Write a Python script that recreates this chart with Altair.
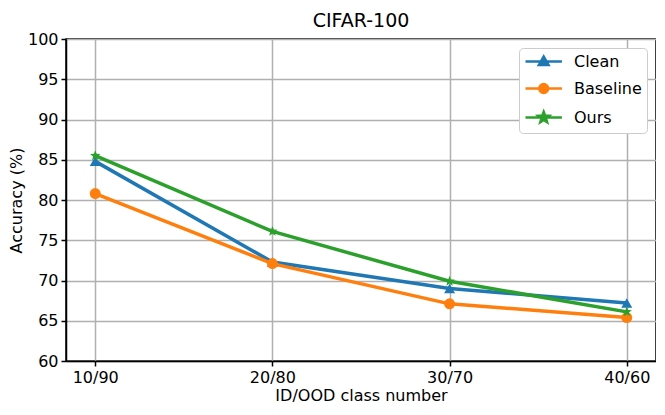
import math
import altair as alt
import pandas as pd

categories = ["10/90", "20/80", "30/70", "40/60"]
series_names = ["Clean", "Baseline", "Ours"]
clean = [84.8, 72.3, 69.0, 67.2]
baseline = [80.8, 72.1, 67.1, 65.4]
ours = [85.5, 76.1, 69.9, 66.1]

rows = []
for name, vals in zip(series_names, [clean, baseline, ours]):
    for c, v in zip(categories, vals):
        rows.append({"cat": c, "series": name, "acc": v})
df = pd.DataFrame(rows)

def star_path(scale=1.0, dx=0.0):
    pts = []
    for k in range(10):
        r = (1.0 if k % 2 == 0 else 0.42) * scale
        a = math.radians(-90 + 36 * k)
        pts.append(f"{dx + r*math.cos(a):.3f},{r*math.sin(a):.3f}")
    return "M" + "L".join(pts) + "Z"

def tri_path(s, dx):
    return f"M{dx:.3f},{-0.8*s:.3f}L{dx+0.8*s:.3f},{0.6*s:.3f}L{dx-0.8*s:.3f},{0.6*s:.3f}Z"

def circ_path(r, dx):
    return (f"M{dx+r:.3f},0A{r:.3f},{r:.3f} 0 1 1 {dx-r:.3f},0"
            f"A{r:.3f},{r:.3f} 0 1 1 {dx+r:.3f},0Z")

star = star_path()
colors = ["#1f77b4", "#ff7f0e", "#2ca02c"]
shapes = ["triangle-up", "circle", star]

# legend glyphs: line segment + marker drawn as nested outlines (so a stroke fills it)
c0 = 1.6
seg = f"M{c0-2.6:.2f},0H{c0+2.6:.2f}"
nest = [1.0, 0.66, 0.33]
leg_tri = seg + "".join(tri_path(0.85 * k, c0) for k in nest)
leg_circ = seg + "".join(circ_path(0.62 * k, c0) for k in nest)
leg_star = seg + "".join(star_path(0.8 * k, c0) for k in nest)
leg_shapes = [leg_tri, leg_circ, leg_star]

x = alt.X("cat:N", sort=categories, title="ID/OOD class number",
          scale=alt.Scale(type="point", padding=0.165),
          axis=alt.Axis(labelAngle=0, grid=True, labelPadding=3, titlePadding=2))
y = alt.Y("acc:Q", title="Accuracy (%)",
          scale=alt.Scale(domain=[60, 100], nice=False, zero=False),
          axis=alt.Axis(values=list(range(60, 101, 5)), grid=True,
                        labelPadding=3, titlePadding=3))
color_scale = alt.Scale(domain=series_names, range=colors)

lines = alt.Chart(df).mark_line(strokeWidth=3.5).encode(
    x=x, y=y,
    color=alt.Color("series:N", sort=series_names, scale=color_scale, legend=None),
    detail="series:N")
points = alt.Chart(df).mark_point(filled=True, size=120, opacity=1).encode(
    x=x, y=y,
    color=alt.Color("series:N", sort=series_names, scale=color_scale, legend=None),
    shape=alt.Shape("series:N", sort=series_names,
                    scale=alt.Scale(domain=series_names, range=shapes), legend=None))

leg = alt.Legend(
    title=None, orient="top-right", offset=9,
    labelFontSize=16, symbolSize=196, symbolStrokeWidth=2.6,
    strokeColor="#cccccc", padding=5, cornerRadius=4,
    fillColor="white", rowPadding=7, labelOffset=33, symbolOpacity=1,
)
legend_layer = alt.Chart(df).transform_filter("false").mark_point(
    filled=False, size=196, opacity=1, strokeWidth=2.6).encode(
    x=x, y=y,
    color=alt.Color("series:N", sort=series_names, scale=color_scale, legend=leg),
    shape=alt.Shape("series:N", sort=series_names,
                    scale=alt.Scale(domain=series_names, range=leg_shapes), legend=leg),
)

chart = alt.layer(lines, points, legend_layer).resolve_scale(
    shape="independent", color="independent"
).properties(
    width=590, height=322,
    title=alt.Title("CIFAR-100", fontSize=19, fontWeight="normal", offset=0),
    padding={"left": 0, "top": 4, "right": 0, "bottom": 0},
).configure(font="DejaVu Sans").configure_axis(
    labelFontSize=16, titleFontSize=16, titleFontWeight="normal",
    labelColor="black", titleColor="black",
    domainColor="black", domainWidth=1.5, tickColor="black", tickWidth=1.5,
    tickSize=5, gridColor="#b0b0b0", gridWidth=1.5,
).configure_view(stroke="black", strokeWidth=1.5).configure_legend(
    labelFont="DejaVu Sans", labelColor="black")

chart.save("out.html", embed_options={"renderer": "svg", "actions": False})
